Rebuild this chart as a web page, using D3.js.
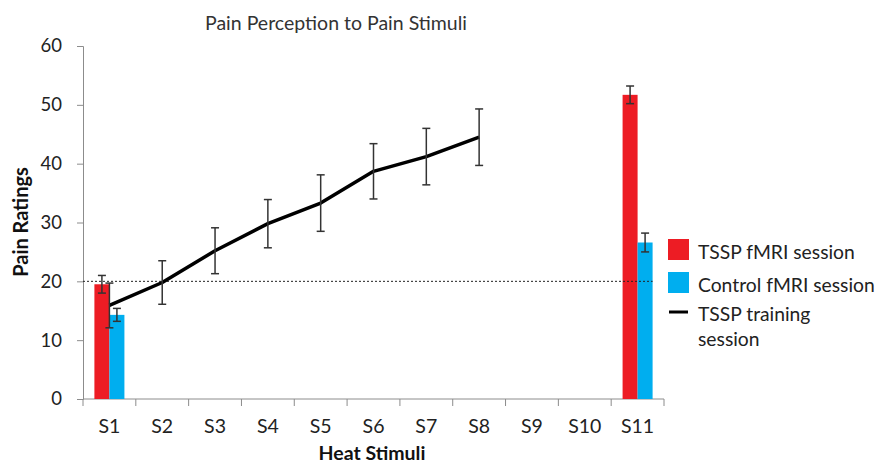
<!DOCTYPE html>
<html>
<head>
<meta charset="utf-8">
<script src="https://cdn.jsdelivr.net/npm/d3@7"></script>
<style>
  html, body { margin: 0; padding: 0; background: #fff; }
  svg { display: block; font-family: Lato, "Open Sans", sans-serif; }
</style>
</head>
<body>
<svg id="chart" width="880" height="466"></svg>
<script>
// Heat stimulus categories
const stimuli = ["S1","S2","S3","S4","S5","S6","S7","S8","S9","S10","S11"];

// fMRI session bars (only S1 and S11 were rated in the scanner)
const barStimuli = ["S1", "S11"];
const tsspFmri      = [19.5, 51.7];
const tsspFmriErr   = [1.5, 1.5];
const controlFmri   = [14.3, 26.6];
const controlFmriErr= [1.1, 1.6];

// Training session ratings S1–S8
const trainStimuli = ["S1","S2","S3","S4","S5","S6","S7","S8"];
const training     = [15.9, 19.8, 25.2, 29.8, 33.3, 38.7, 41.2, 44.5];
const trainingErr  = [3.8, 3.7, 3.9, 4.1, 4.8, 4.7, 4.8, 4.8];

const yTicks = [0, 10, 20, 30, 40, 50, 60];
const threshold = 20;

const svg = d3.select("#chart");
const m = { left: 83, right: 664, top: 46, bottom: 399 };

const x = d3.scaleBand().domain(stimuli).range([m.left, m.right]).paddingInner(0).paddingOuter(0);
const y = d3.scaleLinear().domain([0, 60]).range([m.bottom, m.top]);

// two bars per category, narrow relative to the category band
const inner = d3.scaleBand().domain(["tssp", "control"]).range([0, x.bandwidth()]).paddingInner(0).paddingOuter(0.76);

const axisColor = "#8c8c8c";
const textColor = "#222";

// Y axis
const yAxis = svg.append("g").attr("transform", `translate(${m.left},0)`)
  .call(d3.axisLeft(y).tickValues(yTicks).tickSize(6).tickPadding(15));
yAxis.select(".domain").attr("stroke", axisColor);
yAxis.selectAll(".tick line").attr("stroke", axisColor);
yAxis.selectAll(".tick text").attr("font-size", 18.5).attr("fill", textColor).attr("font-family", "Lato, sans-serif");

// X axis: ticks sit on category boundaries
const xAxisG = svg.append("g").attr("transform", `translate(0,${m.bottom})`);
xAxisG.append("line").attr("x1", m.left).attr("x2", m.right).attr("stroke", axisColor);
const boundaries = stimuli.map(s => x(s)).concat([x(stimuli[stimuli.length - 1]) + x.bandwidth()]);
xAxisG.selectAll("line.tk").data(boundaries).join("line").attr("class", "tk")
  .attr("x1", d => d).attr("x2", d => d).attr("y1", 0).attr("y2", 7).attr("stroke", axisColor);
xAxisG.selectAll("text").data(stimuli).join("text")
  .attr("x", d => x(d) + x.bandwidth() / 2).attr("y", 34)
  .attr("text-anchor", "middle").attr("font-size", 19.5).attr("fill", textColor)
  .text(d => d);

// Bars
const bars = svg.append("g");
barStimuli.forEach((s, i) => {
  [["tssp", tsspFmri[i], "#ED1C24"], ["control", controlFmri[i], "#00AEEF"]]
    .forEach(([k, v, c]) => {
      bars.append("rect").attr("x", x(s) + inner(k)).attr("width", inner.bandwidth())
        .attr("y", y(v)).attr("height", y(0) - y(v)).attr("fill", c);
    });
});

// Dotted threshold line
svg.append("line").attr("x1", m.left).attr("x2", x("S11") + inner("control") + inner.bandwidth())
  .attr("y1", y(threshold)).attr("y2", y(threshold))
  .attr("stroke", "#222").attr("stroke-width", 1).attr("stroke-dasharray", "2,2");

function errBar(g, cx, v, e) {
  const cap = 4;
  g.append("line").attr("x1", cx).attr("x2", cx).attr("y1", y(v + e)).attr("y2", y(v - e));
  g.append("line").attr("x1", cx - cap).attr("x2", cx + cap).attr("y1", y(v + e)).attr("y2", y(v + e));
  g.append("line").attr("x1", cx - cap).attr("x2", cx + cap).attr("y1", y(v - e)).attr("y2", y(v - e));
}

// Bar error bars
const barErr = svg.append("g").attr("stroke", "#333").attr("stroke-width", 1.5);
barStimuli.forEach((s, i) => {
  errBar(barErr, x(s) + inner("tssp") + inner.bandwidth() / 2, tsspFmri[i], tsspFmriErr[i]);
  errBar(barErr, x(s) + inner("control") + inner.bandwidth() / 2, controlFmri[i], controlFmriErr[i]);
});

// Training line
const lineX = s => x(s) + x.bandwidth() / 2;
svg.append("path")
  .datum(trainStimuli.map((s, i) => [lineX(s), y(training[i])]))
  .attr("d", d3.line())
  .attr("fill", "none").attr("stroke", "#000").attr("stroke-width", 3.5).attr("stroke-linejoin", "round");

const lineErr = svg.append("g").attr("stroke", "#333").attr("stroke-width", 1.5);
trainStimuli.forEach((s, i) => errBar(lineErr, lineX(s), training[i], trainingErr[i]));

// Title and axis titles
svg.append("text").attr("x", 336).attr("y", 30).attr("text-anchor", "middle")
  .attr("font-size", 19.5).attr("fill", "#333").text("Pain Perception to Pain Stimuli");
svg.append("text").attr("transform", `translate(28,222) rotate(-90)`)
  .attr("text-anchor", "middle").attr("font-size", 20).attr("font-weight", "bold").attr("fill", "#111")
  .text("Pain Ratings");
svg.append("text").attr("x", 372).attr("y", 460).attr("text-anchor", "middle")
  .attr("font-size", 19.5).attr("font-weight", "bold").attr("fill", "#111").text("Heat Stimuli");

// Legend
const leg = svg.append("g").attr("transform", "translate(668,0)");
const legItems = [
  { label: ["TSSP fMRI session"], type: "rect", color: "#ED1C24", top: 239, base: 259 },
  { label: ["Control fMRI session"], type: "rect", color: "#00AEEF", top: 272, base: 292 },
  { label: ["TSSP training", "session"], type: "line", color: "#000", top: 312, base: 321 }
];
legItems.forEach(d => {
  const g = leg.append("g");
  if (d.type === "rect") {
    g.append("rect").attr("y", d.top).attr("width", 21).attr("height", 21).attr("fill", d.color);
  } else {
    g.append("line").attr("x1", 1).attr("x2", 20).attr("y1", d.top).attr("y2", d.top)
      .attr("stroke", d.color).attr("stroke-width", 3);
  }
  d.label.forEach((t, j) => {
    g.append("text").attr("x", 30).attr("y", d.base + j * 25).attr("font-size", 19.3).attr("fill", textColor).text(t);
  });
});
</script>
</body>
</html>
